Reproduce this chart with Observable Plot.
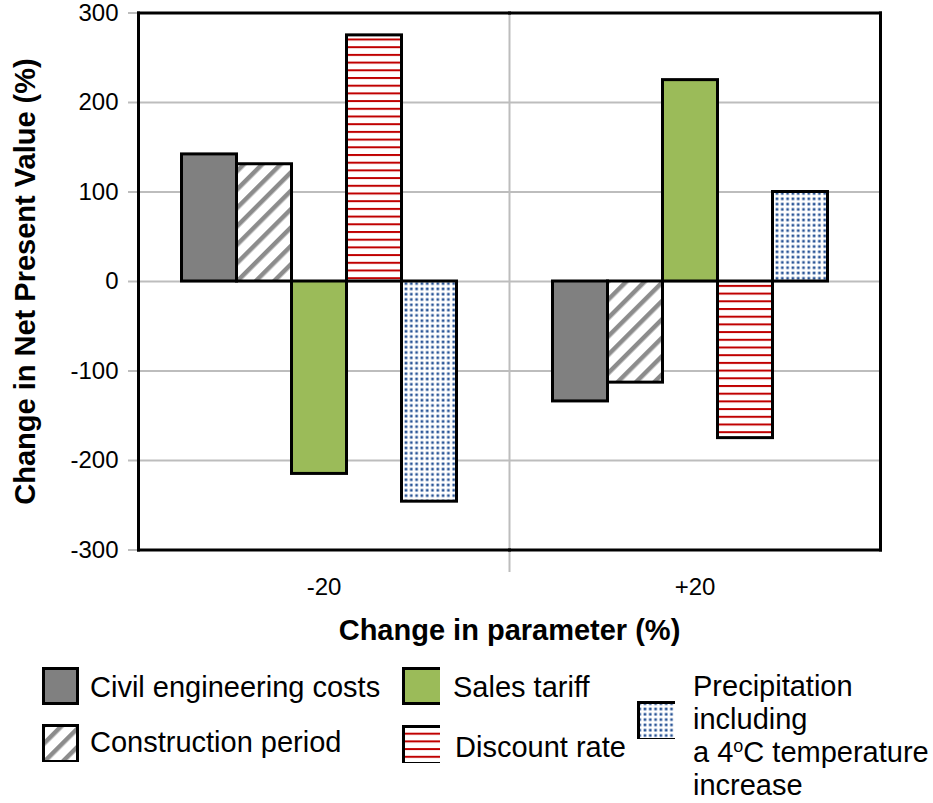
<!DOCTYPE html>
<html>
<head>
<meta charset="utf-8">
<script src="https://cdn.jsdelivr.net/npm/d3@7"></script>
<script src="https://cdn.jsdelivr.net/npm/@observablehq/plot@0.6"></script>
<style>
  html, body { margin: 0; padding: 0; background: white; }
  #wrap { position: relative; width: 933px; height: 803px; font-family: "Liberation Sans", Arial, sans-serif; color: black; }
  #chart svg { display: block; }
  #chart [aria-label="y-axis label"], #chart [aria-label="fx-axis label"] { font-weight: bold; font-size: 29px; }
  .key { position: absolute; width: 38px; height: 38px; }
  .lbl { position: absolute; font-size: 29px; line-height: 33px; white-space: nowrap; }
  sup { font-size: 18px; vertical-align: 10px; line-height: 0; }
</style>
</head>
<body>
<!-- shared fill patterns for bars and legend keys -->
<svg width="0" height="0" style="position:absolute">
  <defs>
    <pattern id="diag" patternUnits="userSpaceOnUse" width="13" height="13" patternTransform="rotate(45)">
      <rect width="13" height="13" fill="white"/>
      <rect x="0" y="0" width="4.5" height="13" fill="#8c8c8c"/>
    </pattern>
    <pattern id="hlines" patternUnits="userSpaceOnUse" width="8" height="7.7">
      <rect width="8" height="7.7" fill="white"/>
      <rect x="0" y="0" width="8" height="2" fill="#c00000"/>
    </pattern>
    <pattern id="dots" patternUnits="userSpaceOnUse" width="5.3" height="5.3">
      <rect width="5.3" height="5.3" fill="white"/>
      <rect x="1.4" y="1.4" width="2.6" height="2.6" fill="#2a5597"/>
    </pattern>
  </defs>
</svg>
<div id="wrap">
  <div id="chart"></div>
  <div id="legend"></div>
</div>
<script>
// Parameter change groups and the sensitivity series
const groups = ["-20", "+20"];
const series = [
  "Civil engineering costs",
  "Construction period",
  "Sales tariff",
  "Discount rate",
  "Precipitation including a 4oC temperature increase"
];
// Change in NPV (%) for each series, per group
const minus20 = [142, 131, -215, 275, -246];
const plus20 = [-134, -113, 225, -175, 100];
const yTicks = [-300, -200, -100, 0, 100, 200, 300];
const fills = ["#808080", "url(#diag)", "#9bbb59", "url(#hlines)", "url(#dots)"];

const rows = [
  ...series.map((s, i) => ({group: groups[0], series: s, value: minus20[i]})),
  ...series.map((s, i) => ({group: groups[1], series: s, value: plus20[i]}))
];

const black = "black";
const gray = "#bdbdbd";

const chart = Plot.plot({
  width: 933,
  height: 655,
  marginLeft: 137.5,
  marginRight: 52,
  marginTop: 12.5,
  marginBottom: 105.5,
  style: {fontFamily: "'Liberation Sans', Arial, sans-serif", fontSize: "24px", color: "black", background: "white", overflow: "visible"},
  fx: {domain: groups, padding: 0, label: null},
  x: {domain: series, paddingInner: 0, paddingOuter: 0.855, align: 0.45, axis: null},
  y: {domain: [-300, 300]},
  color: {domain: series, range: fills},
  marks: [
    Plot.gridY(yTicks, {stroke: gray, strokeOpacity: 1, strokeWidth: 2}),
    Plot.axisY(yTicks, {
      tickSize: 10, tickPadding: 10, stroke: gray, strokeWidth: 2, strokeOpacity: 1, fill: black,
      tickFormat: d => String(d), fontSize: 24,
      label: "Change in Net Present Value (%)", labelAnchor: "center", labelArrow: "none", labelOffset: 124
    }),
    Plot.axisFx({
      anchor: "bottom", tickSize: 0, tickPadding: 28, fontSize: 24, fill: black,
      label: "Change in parameter (%)", labelAnchor: "center", labelArrow: "none", labelOffset: 90
    }),
    // category divider, running below the plot area
    Plot.frame({anchor: "left", facetAnchor: "right", stroke: gray, strokeWidth: 2, insetBottom: -21}),
    Plot.barY(rows, {fx: "group", x: "series", y: "value", fill: "series", stroke: black, strokeWidth: 3}),
    Plot.frame({anchor: "top", stroke: black, strokeWidth: 3}),
    Plot.frame({anchor: "bottom", stroke: black, strokeWidth: 3}),
    Plot.frame({anchor: "left", facetAnchor: "left", stroke: black, strokeWidth: 3}),
    Plot.frame({anchor: "right", facetAnchor: "right", stroke: black, strokeWidth: 3})
  ]
});
document.getElementById("chart").appendChild(chart);

// Legend: swatch positions and label text
const legendItems = [
  {i: 0, key: [42, 667, 37, 38], text: [90, 671], html: "Civil engineering costs"},
  {i: 2, key: [402, 667, 41, 38], text: [453, 671], html: "Sales tariff"},
  {i: 1, key: [42, 724, 37, 39], text: [90, 726], html: "Construction period"},
  {i: 3, key: [402, 725, 41, 40], text: [455, 731], html: "Discount rate"},
  {i: 4, key: [637, 701, 41, 40], text: [693, 670], html: "Precipitation<br>including<br>a 4<sup>o</sup>C temperature<br>increase"}
];
const legend = document.getElementById("legend");
for (const item of legendItems) {
  const [x, y, w, h] = item.key;
  const sw = document.createElementNS("http://www.w3.org/2000/svg", "svg");
  sw.setAttribute("class", "key");
  sw.setAttribute("width", w);
  sw.setAttribute("height", h);
  sw.style.left = x + "px";
  sw.style.top = y + "px";
  sw.innerHTML = `<rect x="1.5" y="1.5" width="${w - 3}" height="${h - 3}" fill="${fills[item.i]}" stroke="black" stroke-width="3"/>`;
  legend.appendChild(sw);
  const t = document.createElement("div");
  t.className = "lbl";
  t.style.left = item.text[0] + "px";
  t.style.top = item.text[1] + "px";
  t.innerHTML = item.html;
  legend.appendChild(t);
}
</script>
</body>
</html>
